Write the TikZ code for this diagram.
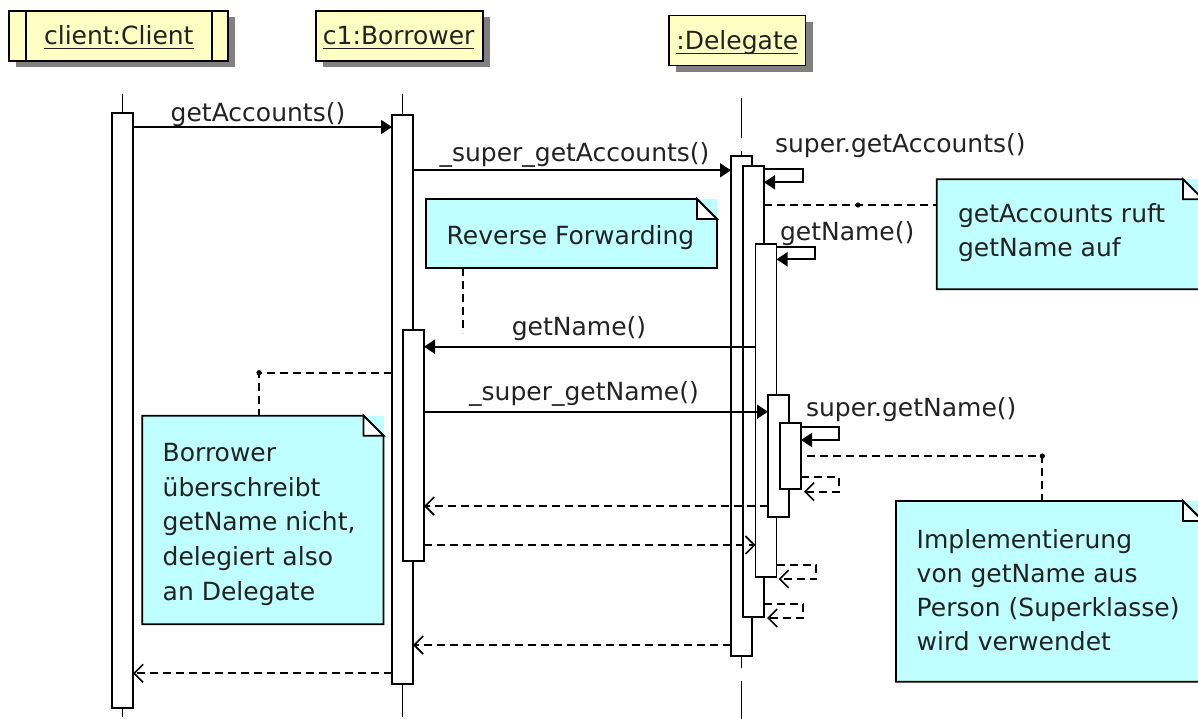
\documentclass[tikz,border=0pt]{standalone}
\usepackage{fontspec}
\setmainfont{DejaVu Sans}
\usetikzlibrary{arrows.meta,shadows}
\definecolor{hdrfill}{RGB}{255,255,196}
\definecolor{notefill}{RGB}{192,255,255}
\definecolor{shadowgray}{RGB}{128,128,128}
\definecolor{ink}{RGB}{34,34,34}

% outline of a UML note with a folded top-right corner
\newcommand\drawnote[1]{%
  \draw[noteline] (#1.north west) -- ([xshift=-20pt]#1.north east)
    -- ([yshift=-20pt]#1.north east) -- (#1.south east) -- (#1.south west) -- cycle;
  \draw[noteline,fill=white] ([xshift=-20pt]#1.north east)
    -- ([xshift=-20pt,yshift=-20pt]#1.north east) -- ([yshift=-20pt]#1.north east) -- cycle;
}

\begin{document}
\begin{tikzpicture}[x=1pt,y=-1pt,
  every node/.style={inner sep=0pt,outer sep=0pt},
  lbl/.style={font=\fontsize{25pt}{35pt}\selectfont,text=ink},
  hdr/.style={draw,line width=1.8pt,fill=hdrfill,anchor=north west,
    drop shadow={shadow xshift=7pt,shadow yshift=-6pt,opacity=1,fill=shadowgray}},
  notebox/.style={fill=notefill,anchor=north west},
  noteline/.style={line width=1.8pt,fill=notefill},
  actbar/.style={draw,line width=1.8pt,fill=white,minimum width=21pt,anchor=north},
  life/.style={line width=1.8pt,dash pattern=on 40pt off 13pt},
  call/.style={line width=1.8pt,-{Triangle[length=11pt,width=14pt]}},
  reply/.style={line width=1.8pt,dash pattern=on 8pt off 5pt,
    -{Straight Barb[length=9pt,width=18pt,line width=1.6pt]}},
  link/.style={line width=1.8pt,dash pattern=on 8pt off 5pt},
  uline/.style={line width=1.4pt,ink}
]
\useasboundingbox (0,0) rectangle (1198,718);
\clip (0,0) rectangle (1198,718);

% ---------- object headers ----------
\node[hdr,minimum width=219pt,minimum height=50pt] (hCl) at (9,11) {};
\draw[line width=1.8pt] ([xshift=16.7pt]hCl.north west) -- ([xshift=16.7pt]hCl.south west);
\draw[line width=1.8pt] ([xshift=-16pt]hCl.north east) -- ([xshift=-16pt]hCl.south east);
\node[hdr,minimum width=167pt,minimum height=50pt] (hBo) at (315.7,11) {};
\node[hdr,minimum width=136.5pt,minimum height=50pt] (hDe) at (669,15.5) {};

\node[lbl,anchor=base] (tCl) at (118.8,44.3) {client:Client};
\node[lbl,anchor=base] (tBo) at (398.7,44.3) {c1:Borrower};
\node[lbl,anchor=base] (tDe) at (737.3,49.5) {:Delegate};
\foreach \t in {tCl,tBo,tDe}
  \draw[uline] ([yshift=-4.2pt]\t.base west) -- ([yshift=-4.2pt]\t.base east);

% ---------- lifelines ----------
\coordinate (lCl) at (122.5,94);
\coordinate (lBo) at (402.5,94);
\coordinate (lDe) at (741.5,98);
\foreach \l in {lCl,lBo,lDe}
  \draw[life] (\l) -- (\l |- 0,720);

% ---------- activation bars ----------
\node[actbar,minimum height=595pt] (cl) at (122.5,113) {};
\node[actbar,minimum height=569pt] (b1) at (402.5,115) {};
\node[actbar,minimum height=231pt] (b2) at (413.5,330) {};
\node[actbar,minimum height=500pt] (dA) at (741.5,156) {};
\node[actbar,minimum height=451pt] (dB) at (753.5,166) {};
\node[actbar,minimum height=333pt] (dC) at (766,244) {};
\node[actbar,minimum height=122pt] (dD) at (778.5,395) {};
\node[actbar,minimum height=66pt] (dE) at (790.5,423) {};

% ---------- notes ----------
\node[notebox,minimum width=291pt,minimum height=69pt] (nRF) at (426,199) {};
\drawnote{nRF}
\node[notebox,minimum width=266.3pt,minimum height=110pt] (nGA) at (936.7,179.3) {};
\drawnote{nGA}
\node[notebox,minimum width=241.2pt,minimum height=208.6pt] (nBO) at (142.3,415.7) {};
\drawnote{nBO}
\node[notebox,minimum width=307pt,minimum height=180.7pt] (nIM) at (896,501) {};
\drawnote{nIM}

\node[lbl,anchor=base west] (xRF) at (446.7,244.5) {Reverse Forwarding};
\node[lbl,anchor=base west] (xGA) at (958,222)
  {\vtop{\baselineskip=34pt\hbox{getAccounts ruft}\hbox{getName auf}}};
\node[lbl,anchor=base west] (xBO) at (162.7,461.7)
  {\vtop{\baselineskip=34.6pt\hbox{Borrower}\hbox{überschreibt}\hbox{getName nicht,}\hbox{delegiert also}\hbox{an Delegate}}};
\node[lbl,anchor=base west] (xIM) at (916.7,548.3)
  {\vtop{\baselineskip=34.2pt\hbox{Implementierung}\hbox{von getName aus}\hbox{Person (Superklasse)}\hbox{wird verwendet}}};

% ---------- note links ----------
\coordinate (kRF) at (463,333);
\draw[link] (kRF |- nRF.south) -- (kRF);
\coordinate (kGA) at (858,205);
\draw[link] (dB.east |- kGA) -- (nGA.west |- kGA);
\fill (kGA) circle[radius=2.6pt];
\coordinate (kBO) at (259,372.7);
\draw[link] (b1.west |- kBO) -- (kBO) -- (kBO |- nBO.north);
\fill (kBO) circle[radius=2.6pt];
\coordinate (kIM) at (1042.3,456);
\draw[link] ([xshift=6pt]dE.east |- kIM) -- (kIM) -- (kIM |- nIM.north);
\fill (kIM) circle[radius=2.6pt];

% ---------- messages ----------
\draw[call] (cl.east |- 0,127) -- (b1.west |- 0,127);
\node[lbl,anchor=base] (m1) at (258,121.5) {getAccounts()};

\draw[call] (b1.east |- 0,170.3) -- (dA.west |- 0,170.3);
\node[lbl,anchor=base] (m2) at (574.5,161) {\_super\_getAccounts()};

\draw[call] (dB.east |- 0,169) -- (803.3,169) -- (803.3,182.3) -- (dB.east |- 0,182.3);
\node[lbl,anchor=base west] (m3) at (775,152.3) {super.getAccounts()};

\draw[call] (dC.east |- 0,246.7) -- (815,246.7) -- (815,259.3) -- (dC.east |- 0,259.3);
\node[lbl,anchor=base west] (m4) at (780,240.7) {getName()};

\draw[call] (dC.west |- 0,346.7) -- (b2.east |- 0,346.7);
\node[lbl,anchor=base] (m5) at (579,335) {getName()};

\draw[call] (b2.east |- 0,411.7) -- (dD.west |- 0,411.7);
\node[lbl,anchor=base] (m6) at (584,400) {\_super\_getName()};

\draw[call] (dE.east |- 0,426.7) -- (839,426.7) -- (839,440) -- (dE.east |- 0,440);
\node[lbl,anchor=base west] (m7) at (806,416.7) {super.getName()};

% ---------- replies ----------
\draw[reply] (dE.east |- 0,477) -- (839,477) -- (839,491.7) -- ([xshift=3pt]dE.east |- 0,491.7);
\draw[reply] (dD.west |- 0,506) -- (b2.east |- 0,506);
\draw[reply] (b2.east |- 0,545) -- (dC.west |- 0,545);
\draw[reply] (dC.east |- 0,565) -- (816,565) -- (816,579) -- ([xshift=2pt]dC.east |- 0,579);
\draw[reply] (dB.east |- 0,604) -- (803,604) -- (803,618) -- ([xshift=3pt]dB.east |- 0,618);
\draw[reply] (dA.west |- 0,645) -- (b1.east |- 0,645);
\draw[reply] (b1.west |- 0,673.3) -- (cl.east |- 0,673.3);
\end{tikzpicture}
\end{document}
